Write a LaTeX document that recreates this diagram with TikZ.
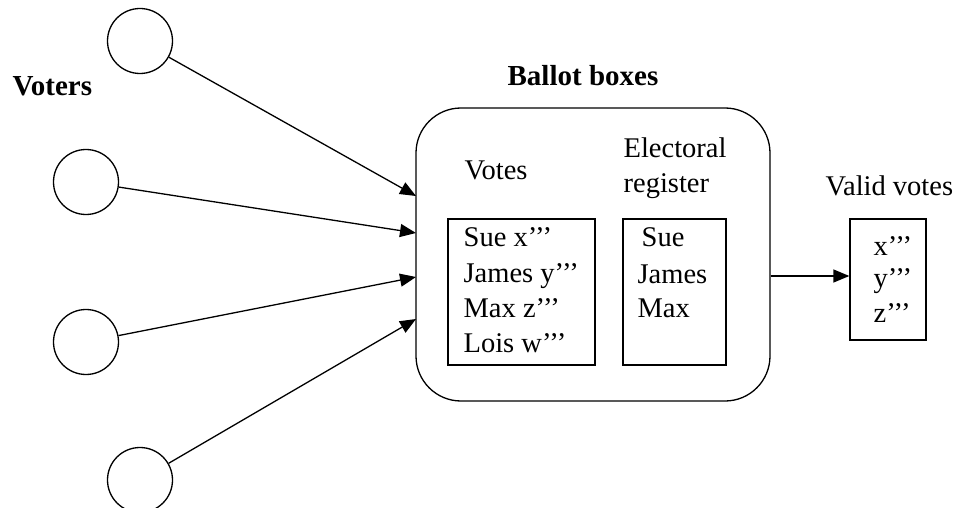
\documentclass[tikz,border=0pt]{standalone}
\usepackage{fontspec}
\setmainfont{Liberation Serif}
\usetikzlibrary{arrows.meta}
\begin{document}
\begin{tikzpicture}[x=1pt,y=-1pt,
  line width=1.3pt,
  voter/.style={draw,circle,minimum size=65pt,inner sep=0pt},
  boxx/.style={draw,rectangle,inner sep=0pt},
  txt/.style={font=\fontsize{28.5}{35}\selectfont,anchor=base west,inner sep=0pt},
  btxt/.style={font=\fontsize{29}{35}\selectfont\bfseries,anchor=base west,inner sep=0pt},
  arr/.style={-{Triangle[length=16pt,width=13pt]}}]
\clip (0,0) rectangle (959,508);
% voters
\node[voter] (v1) at (140,41) {};
\node[voter] (v2) at (86,182) {};
\node[voter] (v3) at (86,342) {};
\node[voter] (v4) at (140,480) {};
\node[btxt] (voters) at (12,96) {Voters};
% ballot boxes
\node[btxt] (bbl) at (507,86) {Ballot boxes};
\node[boxx,rounded corners=45pt,minimum width=354pt,minimum height=293pt] (bb) at (593,254.5) {};
\coordinate (i1) at (416,196);
\coordinate (i2) at (416,233);
\coordinate (i3) at (416,277);
\coordinate (i4) at (416,319);
\draw[arr] (v1) -- (i1);
\draw[arr] (v2) -- (i2);
\draw[arr] (v3) -- (i3);
\draw[arr] (v4) -- (i4);
% votes
\node[txt] (votesl) at (464,179) {Votes};
\node[boxx,minimum width=147pt,minimum height=146pt] (vb) at (521.5,292) {};
\node[txt] (t1) at (463,246) {Sue x’’’};
\node[txt] (t2) at (463,282) {James y’’’};
\node[txt] (t3) at (463,317) {Max z’’’};
\node[txt] (t4) at (463,352) {Lois w’’’};
% register
\node[txt] (el1) at (623,158) {Electoral};
\node[txt] (el2) at (623,193) {register};
\node[boxx,minimum width=103pt,minimum height=146pt] (rb) at (674.5,292) {};
\node[txt] (r1) at (641,246) {Sue};
\node[txt] (r2) at (637,283) {James};
\node[txt] (r3) at (637,317) {Max};
% valid votes
\node[txt] (vvl) at (825,196) {Valid votes};
\node[boxx,minimum width=76pt,minimum height=121pt] (vv) at (888,279.5) {};
\node[txt] (w1) at (873,255) {x’’’};
\node[txt] (w2) at (873,287) {y’’’};
\node[txt] (w3) at (873,322) {z’’’};
\draw[arr] ([yshift=3.5pt]vv.west -| bb.east) -- ([yshift=3.5pt]vv.west);
\end{tikzpicture}
\end{document}
